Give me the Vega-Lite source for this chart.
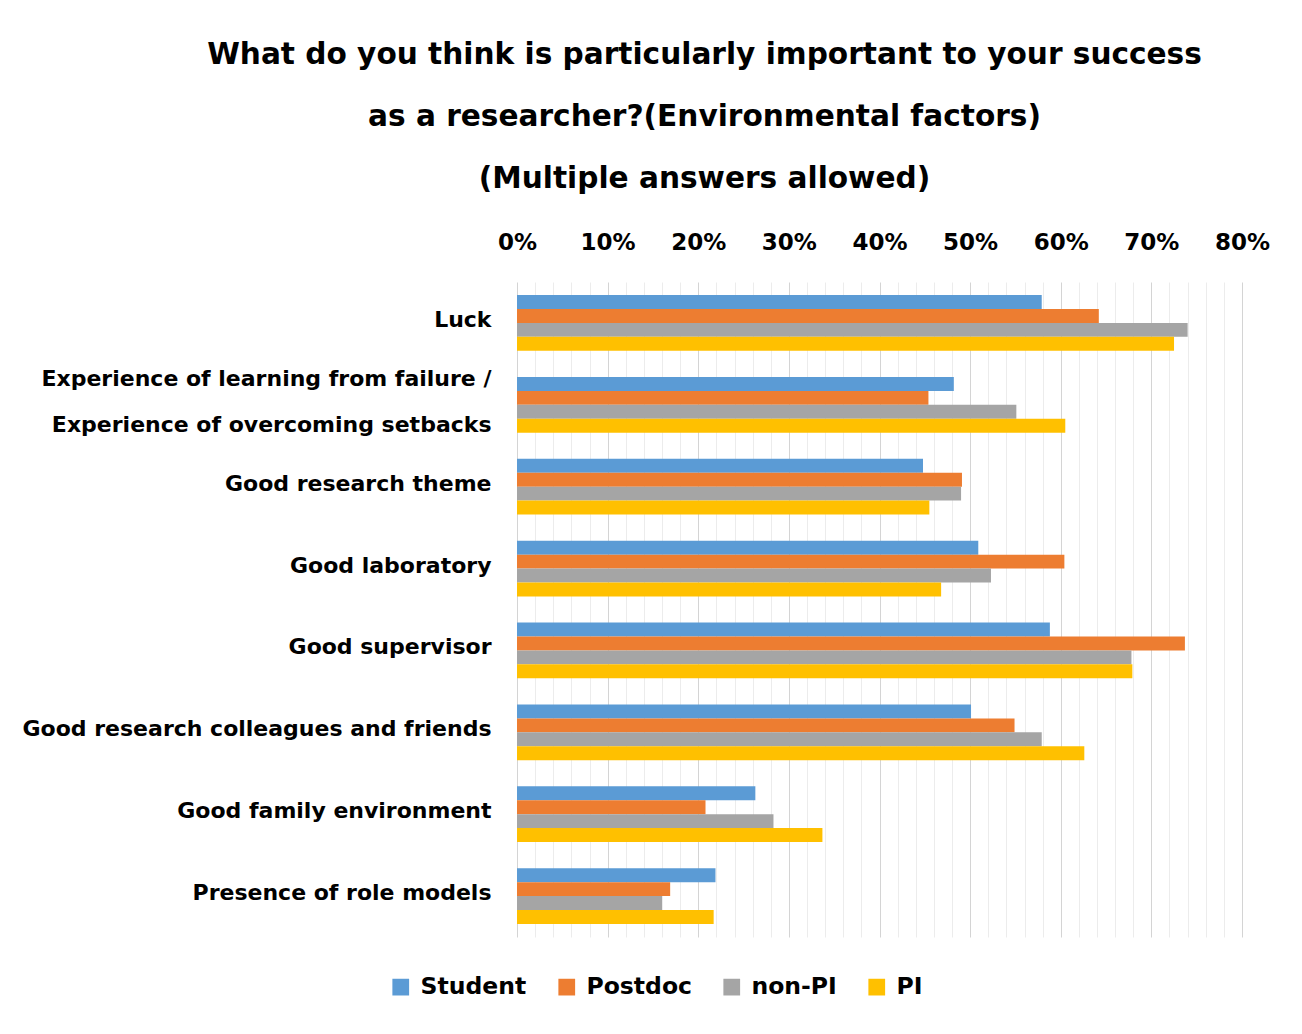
{
  "$schema": "https://vega.github.io/schema/vega-lite/v6.json",
  "width": 725,
  "height": 655,
  "autosize": {"type": "none"},
  "padding": {"left": 517, "top": 282, "right": 60, "bottom": 97},
  "background": "white",
  "title": {
    "text": ["What do you think is particularly important to your success", "as a researcher?(Environmental factors)", "(Multiple answers allowed)"],
    "anchor": "middle",
    "frame": "group",
    "dx": -175,
    "offset": 36,
    "fontSize": 29.6,
    "lineHeight": 62,
    "font": "DejaVu Sans",
    "fontWeight": "bold",
    "color": "#000000"
  },
  "data": {
    "values": [
      {"factor": "Luck", "group": "Student", "value": 0.579},
      {"factor": "Luck", "group": "Postdoc", "value": 0.642},
      {"factor": "Luck", "group": "non-PI", "value": 0.740},
      {"factor": "Luck", "group": "PI", "value": 0.725},
      {"factor": "Experience of learning from failure / Experience of overcoming setbacks", "group": "Student", "value": 0.482},
      {"factor": "Experience of learning from failure / Experience of overcoming setbacks", "group": "Postdoc", "value": 0.454},
      {"factor": "Experience of learning from failure / Experience of overcoming setbacks", "group": "non-PI", "value": 0.551},
      {"factor": "Experience of learning from failure / Experience of overcoming setbacks", "group": "PI", "value": 0.605},
      {"factor": "Good research theme", "group": "Student", "value": 0.448},
      {"factor": "Good research theme", "group": "Postdoc", "value": 0.491},
      {"factor": "Good research theme", "group": "non-PI", "value": 0.490},
      {"factor": "Good research theme", "group": "PI", "value": 0.455},
      {"factor": "Good laboratory", "group": "Student", "value": 0.509},
      {"factor": "Good laboratory", "group": "Postdoc", "value": 0.604},
      {"factor": "Good laboratory", "group": "non-PI", "value": 0.523},
      {"factor": "Good laboratory", "group": "PI", "value": 0.468},
      {"factor": "Good supervisor", "group": "Student", "value": 0.588},
      {"factor": "Good supervisor", "group": "Postdoc", "value": 0.737},
      {"factor": "Good supervisor", "group": "non-PI", "value": 0.678},
      {"factor": "Good supervisor", "group": "PI", "value": 0.679},
      {"factor": "Good research colleagues and friends", "group": "Student", "value": 0.501},
      {"factor": "Good research colleagues and friends", "group": "Postdoc", "value": 0.549},
      {"factor": "Good research colleagues and friends", "group": "non-PI", "value": 0.579},
      {"factor": "Good research colleagues and friends", "group": "PI", "value": 0.626},
      {"factor": "Good family environment", "group": "Student", "value": 0.263},
      {"factor": "Good family environment", "group": "Postdoc", "value": 0.208},
      {"factor": "Good family environment", "group": "non-PI", "value": 0.283},
      {"factor": "Good family environment", "group": "PI", "value": 0.337},
      {"factor": "Presence of role models", "group": "Student", "value": 0.219},
      {"factor": "Presence of role models", "group": "Postdoc", "value": 0.169},
      {"factor": "Presence of role models", "group": "non-PI", "value": 0.160},
      {"factor": "Presence of role models", "group": "PI", "value": 0.217}
    ]
  },
  "mark": {"type": "bar"},
  "encoding": {
    "y": {
      "field": "factor",
      "type": "nominal",
      "sort": null,
      "scale": {"paddingInner": 0.32, "paddingOuter": 0.16},
      "axis": {
        "title": null,
        "ticks": false,
        "domain": false,
        "labelPadding": 26,
        "labelFont": "DejaVu Sans",
        "labelFontWeight": "bold",
        "labelFontSize": 22,
        "labelColor": "#000000",
        "labelLineHeight": 46,
        "labelLimit": 600,
        "labelOffset": {"condition": {"test": "test(/ \\/ /, datum.value)", "value": -26}, "value": -3},
        "labelExpr": "test(/ \\/ /, datum.label) ? [split(datum.label, ' / ')[0] + ' /', split(datum.label, ' / ')[1] + ' '] : datum.label"
      }
    },
    "yOffset": {
      "field": "group",
      "type": "nominal",
      "sort": ["Student", "Postdoc", "non-PI", "PI"],
      "scale": {"paddingInner": 0, "paddingOuter": 0}
    },
    "x": {
      "field": "value",
      "type": "quantitative",
      "scale": {"domain": [0, 0.8], "nice": false},
      "axis": {
        "orient": "top",
        "title": null,
        "values": [0, 0.02, 0.04, 0.06, 0.08, 0.1, 0.12, 0.14, 0.16, 0.18, 0.2, 0.22, 0.24, 0.26, 0.28, 0.3, 0.32, 0.34, 0.36, 0.38, 0.4, 0.42, 0.44, 0.46, 0.48, 0.5, 0.52, 0.54, 0.56, 0.58, 0.6, 0.62, 0.64, 0.66, 0.68, 0.7, 0.72, 0.74, 0.76, 0.78, 0.8],
        "labelExpr": "round(datum.value * 100) % 10 === 0 ? round(datum.value * 100) + '%' : ''",
        "ticks": false,
        "domain": false,
        "grid": true,
        "gridColor": {"condition": {"test": "round(datum.value * 100) % 10 === 0", "value": "#d4d4d4"}, "value": "#ececec"},
        "gridWidth": 1,
        "labelPadding": 28,
        "labelFont": "DejaVu Sans",
        "labelFontWeight": "bold",
        "labelFontSize": 23,
        "labelColor": "#000000",
        "labelFlush": false,
        "labelOverlap": false
      }
    },
    "color": {
      "field": "group",
      "type": "nominal",
      "sort": ["Student", "Postdoc", "non-PI", "PI"],
      "scale": {"domain": ["Student", "Postdoc", "non-PI", "PI"], "range": ["#5B9BD5", "#ED7D31", "#A5A5A5", "#FFC000"]},
      "legend": {
        "title": null,
        "orient": "none",
        "direction": "horizontal",
        "legendX": -128,
        "legendY": 693,
        "symbolType": "square",
        "symbolSize": 280,
        "symbolStrokeWidth": 0,
        "labelFont": "DejaVu Sans",
        "labelFontWeight": "bold",
        "labelFontSize": 23.5,
        "labelColor": "#000000",
        "labelOffset": 8,
        "columnPadding": 28,
        "symbolOffset": 0
      }
    }
  },
  "config": {
    "view": {"stroke": null}
  }
}
